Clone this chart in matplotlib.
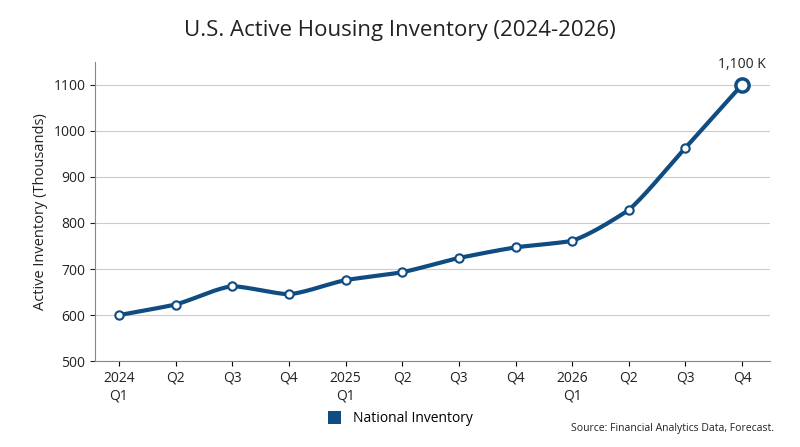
import numpy as np
import matplotlib
matplotlib.use("Agg")
import matplotlib.pyplot as plt
from matplotlib.patches import Patch

plt.rcParams['font.family'] = ['Open Sans', 'DejaVu Sans']

labels = ["2024\nQ1", "Q2", "Q3", "Q4", "2025\nQ1", "Q2", "Q3", "Q4", "2026\nQ1", "Q2", "Q3", "Q4"]
values = [600, 623, 663, 645, 676, 693, 724, 747, 761, 828, 963, 1100]
color = "#0f4c81"

def pchip(x, y, xs):
    x = np.asarray(x, float); y = np.asarray(y, float)
    h = np.diff(x); d = np.diff(y) / h
    m = np.zeros_like(y)
    for k in range(1, len(y) - 1):
        if d[k-1] * d[k] > 0:
            w1 = 2*h[k] + h[k-1]; w2 = h[k] + 2*h[k-1]
            m[k] = (w1 + w2) / (w1/d[k-1] + w2/d[k])
    m[0] = d[0]; m[-1] = d[-1]
    out = np.empty_like(xs)
    for i, xv in enumerate(xs):
        k = min(np.searchsorted(x, xv, side='right') - 1, len(x) - 2)
        t = (xv - x[k]) / h[k]
        h00 = 2*t**3 - 3*t**2 + 1; h10 = t**3 - 2*t**2 + t
        h01 = -2*t**3 + 3*t**2; h11 = t**3 - t**2
        out[i] = h00*y[k] + h10*h[k]*m[k] + h01*y[k+1] + h11*h[k]*m[k+1]
    return out

x = np.arange(len(values))
xs = np.linspace(0, len(values) - 1, 400)
ys = 0.5 * pchip(x, values, xs) + 0.5 * np.interp(xs, x, values)

fig = plt.figure(figsize=(8, 4.47), dpi=100)
ax = fig.add_axes([0.119, 0.192, 0.844, 0.67])
ax.plot(xs, ys, color=color, lw=3, zorder=2)
ax.scatter(x[:-1], values[:-1], s=36, facecolor="white", edgecolor=color, linewidth=1.5, zorder=3)
ax.scatter([x[-1]], [values[-1]], s=90, facecolor="white", edgecolor=color, linewidth=2.5, zorder=3)
ax.annotate("1,100 K", (x[-1], values[-1]), xytext=(0, 9), textcoords="offset points",
            ha="center", va="bottom", fontsize=10, color="#222222")

ax.set_xlim(-0.42, len(values) - 0.5)
ax.set_ylim(500, 1150)
ax.set_yticks(range(500, 1101, 100))
ax.set_xticks(x)
ax.set_xticklabels(labels, fontsize=10, color="#222222")
ax.tick_params(axis='y', labelsize=10, colors="#222222")
ax.grid(axis='y', color="#cccccc", lw=0.8)
ax.set_axisbelow(True)
for s in ["top", "right"]:
    ax.spines[s].set_visible(False)
ax.spines["left"].set_color("#888888")
ax.spines["bottom"].set_color("#888888")
ax.set_ylabel("Active Inventory (Thousands)", fontsize=10.5, color="#222222")

fig.text(0.5, 0.92, "U.S. Active Housing Inventory (2024-2026)", ha="center", fontsize=16, color="#222222")
fig.legend(handles=[Patch(facecolor=color, label="National Inventory")], loc="center",
           bbox_to_anchor=(0.5, 0.063), frameon=False, fontsize=10, handlelength=1, handleheight=1)
fig.text(0.968, 0.035, "Source: Financial Analytics Data, Forecast.", ha="right", fontsize=7.5, color="#222222")

fig.savefig("out.png", dpi=100)
